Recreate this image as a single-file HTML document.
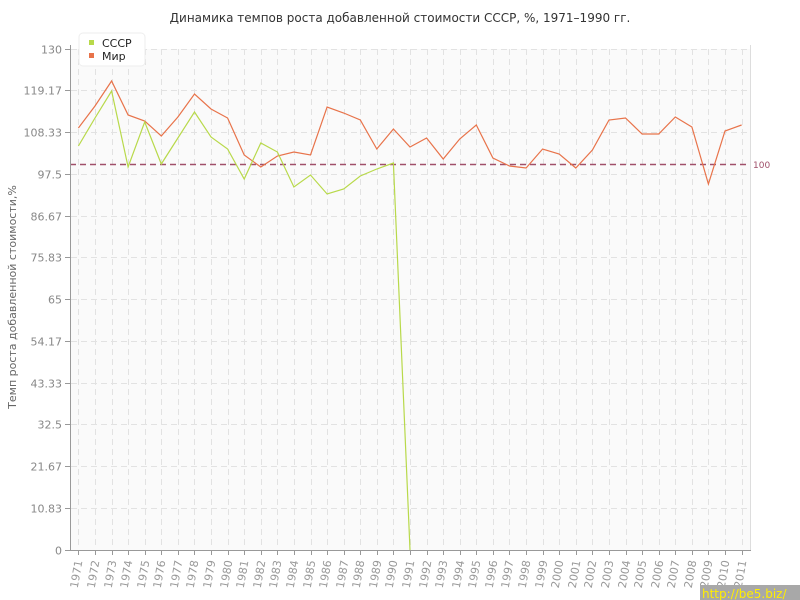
<!DOCTYPE html>
<html><head><meta charset="utf-8"><style>
body{margin:0;background:#fff;}
svg{display:block;font-family:"DejaVu Sans","Liberation Sans",sans-serif;}
</style></head><body>
<svg id="s" width="800" height="600" xmlns="http://www.w3.org/2000/svg">
<rect x="0" y="0" width="800" height="600" fill="#fff"/>
<rect x="70" y="49" width="681" height="501" fill="#fafafa"/>
<text x="400" y="22" text-anchor="middle" font-size="12" fill="#333">Динамика темпов роста добавленной стоимости СССР, %, 1971–1990 гг.</text>
<g id="grid"></g>
<line x1="70" y1="164.5" x2="751" y2="164.5" stroke="#a0506a" stroke-width="1.5" stroke-dasharray="6,4"/>
<text x="753" y="168" font-size="9" fill="#a0506a">100</text>
<line x1="70.5" y1="45" x2="70.5" y2="550" stroke="#999"/>
<line x1="66" y1="550.5" x2="751" y2="550.5" stroke="#999"/>
<line x1="750.5" y1="45" x2="750.5" y2="550" stroke="#ddd"/>
<text transform="translate(16,297) rotate(-90)" text-anchor="middle" font-size="11" fill="#666">Темп роста добавленной стоимости,%</text>
<polyline id="mir" fill="none" stroke="#e8734a" stroke-width="1.2"/>
<polyline id="su" fill="none" stroke="#b8d94a" stroke-width="1.2"/>
<g>
<rect x="79" y="33" width="66" height="33" rx="4" fill="#fff" stroke="#eee"/>
<rect x="89" y="40" width="5" height="5" fill="#b8d94a"/>
<text x="102" y="47" font-size="11" fill="#222">СССР</text>
<rect x="89" y="53" width="5" height="5" fill="#e8734a"/>
<text x="102" y="60" font-size="11" fill="#222">Мир</text>
</g>
<rect x="700" y="585" width="100" height="15" fill="#a8a8a8"/>
<text x="702" y="598" font-size="12" fill="#ffee00">http://be5.biz/</text>
</svg>
<script>
var ns="http://www.w3.org/2000/svg",g=document.getElementById("grid");
function el(t,a,txt){var e=document.createElementNS(ns,t);for(var k in a)e.setAttribute(k,a[k]);if(txt!==undefined)e.textContent=txt;g.appendChild(e);return e;}
var labs=["0","10.83","21.67","32.5","43.33","54.17","65","75.83","86.67","97.5","108.33","119.17","130"];
for(var i=0;i<13;i++){var y=549.5-i*41.75;y=Math.round(y)+0.5;
 if(i>0)el("line",{x1:71,y1:y,x2:750,y2:y,stroke:"#e2e2e2","stroke-dasharray":"6,4"});
 el("line",{x1:65,y1:y,x2:70,y2:y,stroke:"#999"});
 el("text",{x:62,y:y+4,"text-anchor":"end","font-size":"11",fill:"#888"},labs[i]);}
for(var j=0;j<41;j++){var x=Math.round(78.4+j*16.58)+0.5;
 el("line",{x1:x,y1:49,x2:x,y2:549,stroke:"#e2e2e2","stroke-dasharray":"6,4"});
 el("line",{x1:x,y1:550,x2:x,y2:555,stroke:"#999"});
 el("text",{transform:"translate("+(x+4)+",561) rotate(-80)","text-anchor":"end","font-size":"11",fill:"#999"},String(1971+j));}
var mir=[128,106,81,115,121,136,117,94,109,118,155,167,156,152,155,107,113,120,149,129,147,138,159,139,125,158,166,168,149,154,168,150,120,118,134,134,117,127,184,131,125];
var su=[146,118,91,167,122,164,138,112,137,149,179,143,152,187,175,194,189,176,169,163,550];
function pts(a){return a.map(function(v,i){return (78.4+i*16.58).toFixed(1)+","+v}).join(" ");}
document.getElementById("mir").setAttribute("points",pts(mir));
document.getElementById("su").setAttribute("points",pts(su));
</script>
</body></html>
